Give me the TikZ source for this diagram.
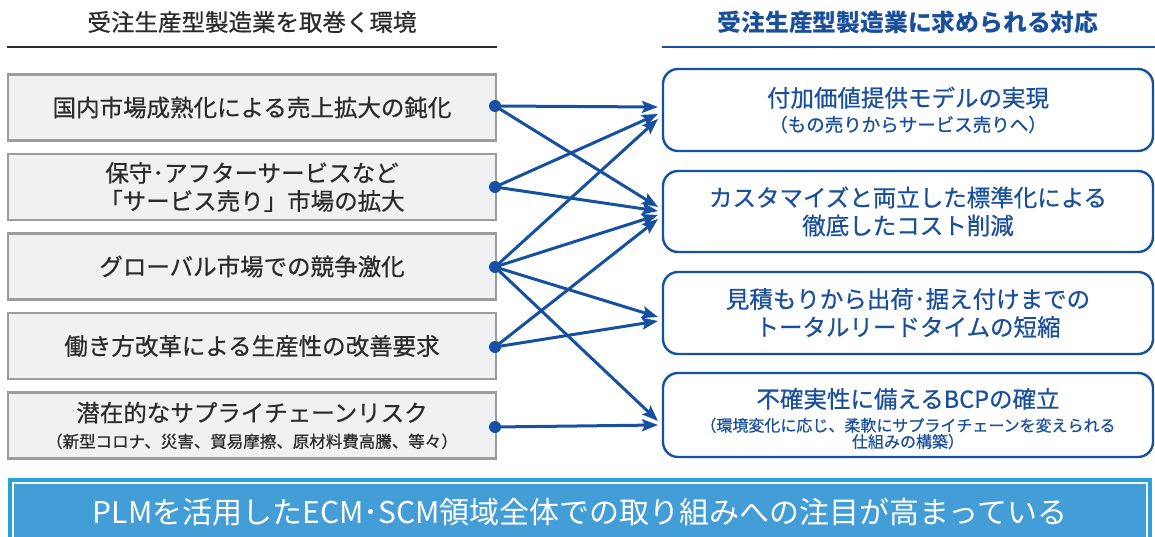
\documentclass[tikz,border=0pt]{standalone}
\usepackage{fontspec}
\setmainfont{Noto Sans CJK JP}
\newfontfamily\medjp{Noto Sans CJK JP}[FakeBold=0.6]
\usetikzlibrary{arrows.meta}
\definecolor{navy}{HTML}{1650A0}
\definecolor{navytext}{HTML}{1A4F9C}
\definecolor{darktext}{HTML}{2B2B2B}
\definecolor{leftfill}{HTML}{F0F1F3}
\definecolor{leftdraw}{HTML}{9C9C9C}
\definecolor{bannerout}{HTML}{27A2DA}
\definecolor{bannerfill}{HTML}{439ED7}
\tikzset{
  leftbox/.style={draw=leftdraw, line width=2.2pt, fill=leftfill, minimum width=488pt, minimum height=66pt, align=center, text=darktext, font=\medjp\fontsize{23.5}{28}\selectfont, inner sep=0pt},
  rightbox/.style={draw=navy, line width=2.4pt, fill=white, rounded corners=15pt, minimum width=490pt, align=center, text=navytext, inner sep=0pt},
  dotnode/.style={circle, fill=navy, minimum size=12pt, inner sep=0pt},
  conn/.style={draw=navy, line width=3pt, -{Stealth[length=16pt,width=12pt,inset=3pt]}},
  hdrline/.style={line width=2.4pt}
}
\begin{document}
\begin{tikzpicture}[x=1pt,y=-1pt]
\useasboundingbox (0,0) rectangle (1155,537);
% headers
\node[text=darktext, font=\medjp\fontsize{23.5}{28}\selectfont] (hl) at (252,22) {受注生産型製造業を取巻く環境};
\draw[hdrline, draw=darktext] (7,47) -- (497,47);
\node[text=navytext, font=\fontsize{23.8}{28}\selectfont\bfseries] (hr) at (908,22) {受注生産型製造業に求められる対応};
\draw[hdrline, draw=navy] (662,47) -- (1155,47);
% left boxes
\node[leftbox] (l1) at (252,107.5) {国内市場成熟化による売上拡大の鈍化};
\node[leftbox] (l2) at (252,187) {保守･アフターサービスなど\\「サービス売り」市場の拡大};
\node[leftbox] (l3) at (252,266.5) {グローバル市場での競争激化};
\node[leftbox] (l4) at (252,346) {働き方改革による生産性の改善要求};
\node[leftbox] (l5) at (252,425.5) {潜在的なサプライチェーンリスク\\[-2pt]\fontsize{16.5}{19}\selectfont （新型コロナ、災害、貿易摩擦、原材料費高騰、等々）};
% right boxes
\node[rightbox, minimum height=82pt] (r1) at (908,110) {\medjp\fontsize{23.5}{28}\selectfont 付加価値提供モデルの実現\\[6pt]\medjp\fontsize{18.5}{20}\selectfont （もの売りからサービス売りへ）};
\node[rightbox, minimum height=81pt, font=\medjp\fontsize{23.5}{28}\selectfont] (r2) at (908,211.5) {カスタマイズと両立した標準化による\\徹底したコスト削減};
\node[rightbox, minimum height=82pt, font=\medjp\fontsize{23.5}{28}\selectfont] (r3) at (908,313) {見積もりから出荷･据え付けまでの\\トータルリードタイムの短縮};
\node[rightbox, minimum height=84pt] (r4) at (908,415) {\medjp\fontsize{23.5}{28}\selectfont\rule{0pt}{27pt}不確実性に備えるBCPの確立\\[7pt]\medjp\fontsize{16}{20}\selectfont （環境変化に応じ、柔軟にサプライチェーンを変えられる\\\medjp\fontsize{16}{20}\selectfont 仕組みの構築）};
% dots
\node[dotnode] (d1) at (495,106) {};
\node[dotnode] (d2) at (495,187) {};
\node[dotnode] (d3) at (495,267) {};
\node[dotnode] (d4) at (495,347) {};
\node[dotnode] (d5) at (495,427) {};
% arrow targets
\coordinate (t11) at (658,107);
\coordinate (t21) at (658,114);
\coordinate (t31) at (658,119);
\coordinate (t12) at (658,207);
\coordinate (t22) at (658,211);
\coordinate (t32) at (658,215);
\coordinate (t42) at (658,219);
\coordinate (t33) at (658,317);
\coordinate (t43) at (658,321);
\coordinate (t34) at (658,421);
\coordinate (t54) at (658,425);
% connectors
\draw[conn] (d1.center) -- (t11);
\draw[conn] (d1.center) -- (t12);
\draw[conn] (d2.center) -- (t21);
\draw[conn] (d2.center) -- (t22);
\draw[conn] (d3.center) -- (t31);
\draw[conn] (d3.center) -- (t32);
\draw[conn] (d3.center) -- (t33);
\draw[conn] (d3.center) -- (t34);
\draw[conn] (d4.center) -- (t42);
\draw[conn] (d4.center) -- (t43);
\draw[conn] (d5.center) -- (t54);
% banner
\fill[bannerout] (8,478) rectangle (1152,545);
\fill[white] (12,482) rectangle (1148,545);
\fill[bannerfill] (14,484) rectangle (1146,545);
\node[text=white, font=\fontsize{30}{36}\selectfont] (bt) at (580,512) {PLMを活用したECM･SCM領域全体での取り組みへの注目が高まっている};
\end{tikzpicture}
\end{document}
